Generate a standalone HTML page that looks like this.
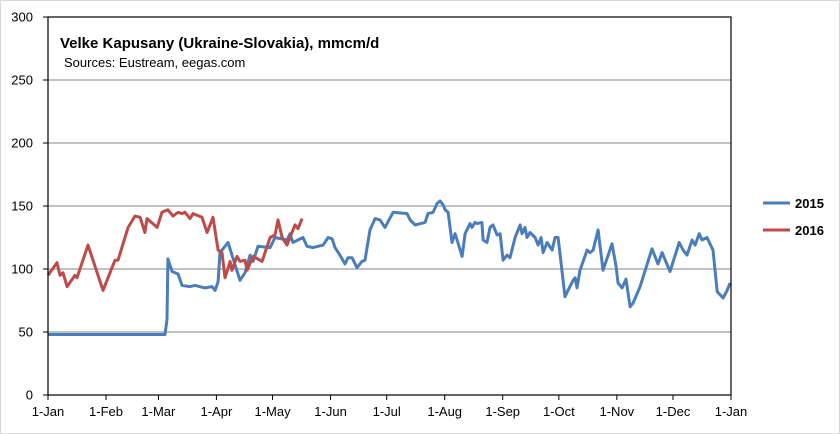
<!DOCTYPE html>
<html><head><meta charset="utf-8"><style>
body{margin:0;background:#fff}
svg{display:block;font-family:"Liberation Sans",sans-serif}
</style></head><body>
<svg id="chart" width="840" height="434">
<rect x="0.5" y="0.5" width="839" height="433" fill="#fff" stroke="#d9d9d9"/>
<g id="grid"></g>
<g id="yticks"></g>
<g id="xticks"></g>
<g id="series"></g>
<rect x="48" y="17" width="683" height="378" fill="none" stroke="#000" stroke-width="1.2"/>
<text x="60" y="48" font-size="15" font-weight="bold" fill="#000">Velke Kapusany (Ukraine-Slovakia), mmcm/d</text>
<text x="64" y="67" font-size="13" fill="#000">Sources: Eustream, eegas.com</text>
<g>
<line x1="763" y1="203" x2="790" y2="203" stroke="#4a7ebb" stroke-width="3"/>
<text x="795" y="208" font-size="13" font-weight="bold">2015</text>
<line x1="763" y1="230" x2="790" y2="230" stroke="#be4b48" stroke-width="3"/>
<text x="795" y="235" font-size="13" font-weight="bold">2016</text>
</g>
</svg>
<script>
const yTicks=[0,50,100,150,200,250,300];
const xTickLabels=["1-Jan","1-Feb","1-Mar","1-Apr","1-May","1-Jun","1-Jul","1-Aug","1-Sep","1-Oct","1-Nov","1-Dec","1-Jan"];
const xTickDays=[0,31,59,90,120,151,181,212,243,273,304,334,365];
const days2015=[0,62.5,63.6,64.1,66.3,69.5,71.6,75.9,78.6,83.9,87.7,89.3,90.9,91.9,96.2,102.6,105.3,108,109.6,112.2,118.7,121.3,127.7,129.3,130.9,136.3,138.4,141.6,147,149.7,151.8,153.4,156,158.7,160.3,162.5,165.1,167.8,169.4,172.1,174.8,177.4,180.1,184.4,191.9,193.5,196.2,201.5,203.1,205.8,207.9,209.5,211.1,212.2,213.8,215.9,217.5,218.6,221.3,222.9,225.5,226.6,228.2,229.3,231.9,232.5,234.6,236.2,237.8,240,241.6,243.2,245.3,246.9,249.6,252.3,253.3,254.9,256,257.6,260.3,261.9,263.5,264.6,266.7,269.4,271,272.6,276.3,277.9,280.6,281.7,282.7,284.3,288.1,289.7,291.3,294,296.6,301.4,303.6,304.6,306.8,308.9,311.1,312.7,316.4,322.8,326,328.2,332.4,337.3,339.4,341.5,344.2,345.8,348,349.5,352.2,353.8,355.4,357.6,360.8,362.9,364.5];
const values2015=[48,48,60,108,98,96,87,86,87,85,86,83,90,113,121,91,97,111,106,118,117,125,123,128,121,125,118,117,119,125,124,117,111,104,109,109,101,106,107,131,140,139,133,145,144,139,135,137,144,145,152,154,151,147,145,121,128,123,110,128,136,133,137,136,137,123,121,133,135,127,128,107,111,109,125,135,128,133,125,129,125,119,125,113,121,115,125,125,78,83,91,93,85,99,115,113,115,131,99,120,102,89,85,92,70,73,86,116,104,113,98,121,115,111,123,119,128,123,125,120,115,82,77,83,89];
const days2016=[0,4.8,6.4,8,10.2,14.4,15.5,21.4,29.4,35.8,37.4,42.8,46.5,49.2,51.8,52.9,58.3,60.9,64.1,66.8,69.5,71.6,73.2,75.9,77.5,82.3,85,88.2,90.9,93,94.6,97.3,98.3,101,102.6,105.3,106.4,109.6,114.4,118.7,121.3,122.9,125.1,127.7,129.3,132,133.6,135.8];
const values2016=[95,105,95,97,86,95,93,119,83,107,107,133,142,141,129,140,133,145,147,142,145,144,145,140,144,141,129,141,115,113,93,106,99,110,106,107,99,110,106,125,127,139,125,119,125,135,132,140];
const X0=48,X1=731,Y0=395,Y1=17;
const xs=d=>X0+d*(X1-X0)/365;
const ys=v=>Y0-v*(Y0-Y1)/300;
const NS="http://www.w3.org/2000/svg";
const grid=document.getElementById('grid'),yt=document.getElementById('yticks'),xt=document.getElementById('xticks'),ser=document.getElementById('series');
yTicks.forEach(v=>{
 const y=ys(v);
 if(v>0&&v<300){const l=document.createElementNS(NS,'line');
 l.setAttribute('x1',X0);l.setAttribute('x2',X1);l.setAttribute('y1',y);l.setAttribute('y2',y);l.setAttribute('stroke','#868686');
 
 
 grid.appendChild(l);}
 const tk=document.createElementNS(NS,'line');
 tk.setAttribute('x1',X0-5);tk.setAttribute('x2',X0);tk.setAttribute('y1',y);tk.setAttribute('y2',y);tk.setAttribute('stroke','#000');
 
 
 yt.appendChild(tk);
 const t=document.createElementNS(NS,'text');
 t.setAttribute('x',33);t.setAttribute('y',y+4.5);t.setAttribute('text-anchor','end');t.setAttribute('font-size','13');t.textContent=v;
 
 
 yt.appendChild(t);
});
xTickDays.forEach((d,i)=>{
 const x=xs(d);
 const tk=document.createElementNS(NS,'line');
 tk.setAttribute('x1',x);tk.setAttribute('x2',x);tk.setAttribute('y1',Y0);tk.setAttribute('y2',Y0+5);tk.setAttribute('stroke','#000');
 
 
 xt.appendChild(tk);
 const t=document.createElementNS(NS,'text');
 t.setAttribute('x',x);t.setAttribute('y',416);t.setAttribute('text-anchor','middle');t.setAttribute('font-size','13');t.textContent=xTickLabels[i];
 
 
 xt.appendChild(t);
});
function line(days,vals,color,name){
 const p=document.createElementNS(NS,'polyline');
 p.setAttribute('points',days.map((d,i)=>xs(d).toFixed(1)+','+ys(vals[i]).toFixed(1)).join(' '));
 p.setAttribute('fill','none');p.setAttribute('stroke',color);p.setAttribute('stroke-width','3');p.setAttribute('stroke-linejoin','round');
 
 
 ser.appendChild(p);
}
line(days2015,values2015,'#4a7ebb','series-2015-line');
line(days2016,values2016,'#be4b48','series-2016-line');
</script>
</body></html>
